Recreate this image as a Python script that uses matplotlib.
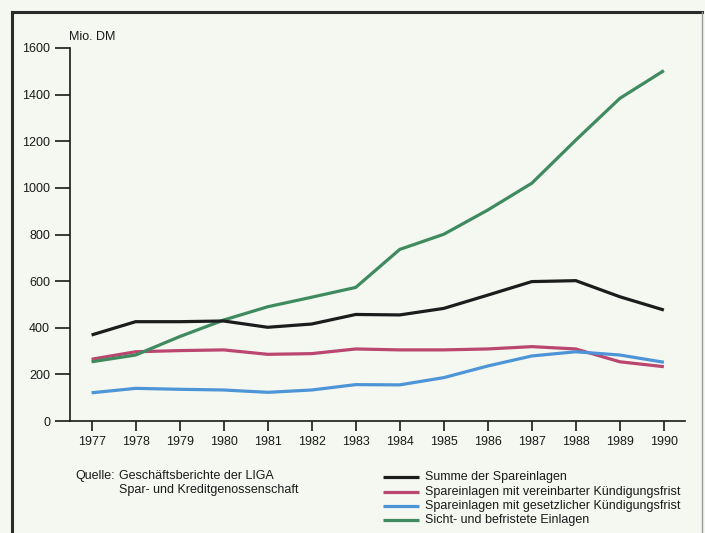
import matplotlib
matplotlib.use("Agg")
import matplotlib.pyplot as plt
from matplotlib.lines import Line2D

plt.rcParams['font.family'] = ['Liberation Sans', 'DejaVu Sans']

years = [1977, 1978, 1979, 1980, 1981, 1982, 1983, 1984, 1985, 1986, 1987, 1988, 1989, 1990]
summe = [369, 426, 426, 429, 402, 416, 457, 455, 483, 540, 598, 602, 533, 476]
vereinbart = [265, 297, 302, 305, 286, 289, 309, 305, 305, 309, 319, 309, 254, 233]
gesetzlich = [121, 140, 136, 133, 123, 133, 156, 155, 186, 236, 279, 297, 283, 252]
sicht = [254, 283, 362, 433, 490, 531, 573, 736, 801, 905, 1020, 1205, 1384, 1503]

labels = ["Summe der Spareinlagen",
          "Spareinlagen mit vereinbarter Kündigungsfrist",
          "Spareinlagen mit gesetzlicher Kündigungsfrist",
          "Sicht- und befristete Einlagen"]
colors = ["#1c1c1c", "#bb4670", "#4d95d6", "#3f8a5e"]
yticks = [0, 200, 400, 600, 800, 1000, 1200, 1400, 1600]

W, H = 705, 533
bg = "#f4f8f1"
fig = plt.figure(figsize=(W / 100, H / 100), dpi=100, facecolor=bg)

def fx(px):
    return px / W

def fy(py):
    return 1 - py / H

ax = fig.add_axes([fx(70), fy(421), fx(685) - fx(70), fy(48) - fy(421)])
ax.set_facecolor(bg)
# draw order: red, blue, green, black on top
for s, c in zip([vereinbart, gesetzlich, sicht, summe], [colors[1], colors[2], colors[3], colors[0]]):
    ax.plot(years, s, color=c, lw=2.3, solid_capstyle='butt', solid_joinstyle='round')

ax.set_xlim(1976.51, 1990.48)
ax.set_ylim(0, 1600)
ax.set_xticks(years)
ax.set_xticklabels([str(y) for y in years])
ax.set_yticks(yticks)
ax.set_yticklabels([str(v) for v in yticks])
for sp in ['top', 'right']:
    ax.spines[sp].set_visible(False)
for sp in ['left', 'bottom']:
    ax.spines[sp].set_linewidth(1.2)
    ax.spines[sp].set_color("#1a1a1a")
ax.tick_params(axis='y', length=10.8, width=1.2, pad=3.5, labelsize=9, colors="#1a1a1a")
ax.tick_params(axis='x', length=7.2, width=1.2, pad=3.5, labelsize=9, colors="#1a1a1a")

fig.text(fx(69), fy(37), "Mio. DM", fontsize=9, ha='left', va='center', color="#1a1a1a")

# source
fig.text(fx(115), fy(476), "Quelle:", fontsize=9, ha='right', va='center', color="#1a1a1a")
fig.text(fx(119), fy(476), "Geschäftsberichte der LIGA", fontsize=9, ha='left', va='center', color="#1a1a1a")
fig.text(fx(119), fy(490), "Spar- und Kreditgenossenschaft", fontsize=9, ha='left', va='center', color="#1a1a1a")

# legend
rows = [477, 491.5, 505.5, 519.5]
for lab, c, ry in zip(labels, colors, rows):
    fig.add_artist(Line2D([fx(383), fx(419)], [fy(ry), fy(ry)], color=c, lw=2.3,
                          transform=fig.transFigure, solid_capstyle='butt'))
    fig.text(fx(425), fy(ry), lab, fontsize=9, ha='left', va='center', color="#1a1a1a")

# frame border
fig.add_artist(Line2D([fx(12), fx(702)], [fy(12), fy(12)], color="#2a2a2a", lw=2.2,
                      transform=fig.transFigure))
fig.add_artist(Line2D([fx(12), fx(12)], [fy(12), fy(533)], color="#2a2a2a", lw=2.2,
                      transform=fig.transFigure))
fig.add_artist(Line2D([fx(702), fx(702)], [fy(12), fy(533)], color="#9a9a9a", lw=1.0,
                      transform=fig.transFigure))

fig.savefig("out.png", dpi=100, facecolor=bg)
